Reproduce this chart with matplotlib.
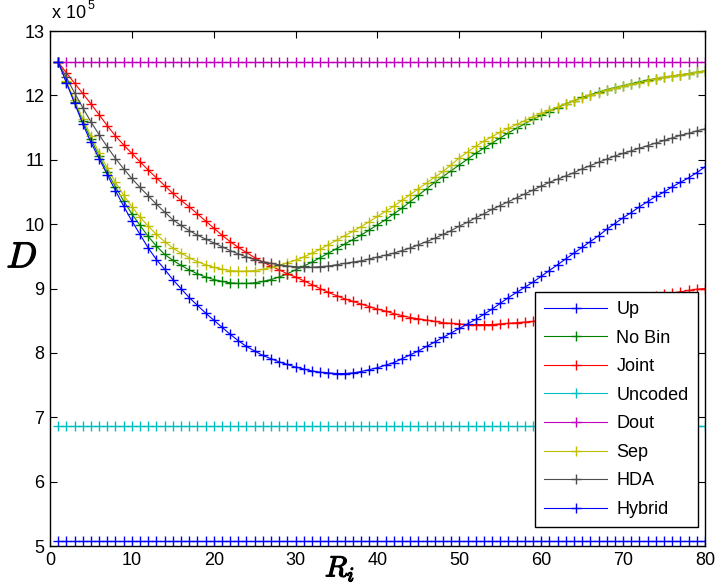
import numpy as np
import matplotlib.pyplot as plt
import matplotlib.patheffects as pe

# R_i values (x axis)
rates = np.arange(1, 81)

# D values, in units of 1e5
hybrid = [12.52, 12.20, 11.88, 11.56, 11.27, 11.02, 10.77, 10.52, 10.28, 10.05,
          9.84, 9.63, 9.45, 9.30, 9.14, 9.00, 8.86, 8.74, 8.62, 8.51,
          8.40, 8.29, 8.19, 8.10, 8.03, 7.96, 7.91, 7.86, 7.82, 7.78,
          7.75, 7.72, 7.70, 7.69, 7.68, 7.68, 7.69, 7.71, 7.74, 7.77,
          7.81, 7.85, 7.91, 7.97, 8.03, 8.10, 8.17, 8.24, 8.31, 8.38,
          8.45, 8.52, 8.60, 8.68, 8.77, 8.86, 8.94, 9.02, 9.10, 9.19,
          9.28, 9.37, 9.46, 9.55, 9.64, 9.73, 9.82, 9.92, 10.01, 10.10,
          10.18, 10.27, 10.35, 10.43, 10.50, 10.58, 10.65, 10.72, 10.80, 10.89]
no_bin = [12.52, 12.21, 11.90, 11.60, 11.32, 11.06, 10.81, 10.58, 10.36, 10.16,
          9.98, 9.81, 9.66, 9.53, 9.44, 9.36, 9.29, 9.23, 9.18, 9.14,
          9.11, 9.09, 9.08, 9.08, 9.09, 9.11, 9.14, 9.18, 9.23, 9.29,
          9.35, 9.41, 9.48, 9.55, 9.62, 9.69, 9.76, 9.83, 9.91, 9.99,
          10.07, 10.16, 10.25, 10.35, 10.45, 10.55, 10.65, 10.74, 10.83, 10.92,
          11.01, 11.10, 11.18, 11.26, 11.34, 11.42, 11.49, 11.56, 11.63, 11.69,
          11.75, 11.81, 11.87, 11.92, 11.97, 12.01, 12.05, 12.09, 12.12, 12.15,
          12.18, 12.21, 12.24, 12.26, 12.28, 12.30, 12.32, 12.34, 12.36, 12.38]
sep = [12.52, 12.22, 11.93, 11.64, 11.37, 11.11, 10.87, 10.65, 10.45, 10.27,
       10.11, 9.97, 9.84, 9.73, 9.63, 9.55, 9.48, 9.42, 9.37, 9.33,
       9.30, 9.28, 9.27, 9.27, 9.28, 9.30, 9.33, 9.36, 9.40, 9.44,
       9.49, 9.55, 9.61, 9.68, 9.75, 9.82, 9.89, 9.96, 10.04, 10.12,
       10.20, 10.28, 10.37, 10.46, 10.55, 10.64, 10.73, 10.82, 10.92, 11.03,
       11.12, 11.21, 11.29, 11.36, 11.43, 11.49, 11.55, 11.61, 11.67, 11.72,
       11.77, 11.82, 11.87, 11.92, 11.96, 12.00, 12.04, 12.08, 12.11, 12.14,
       12.17, 12.20, 12.23, 12.26, 12.28, 12.30, 12.32, 12.34, 12.36, 12.38]
hda = [12.52, 12.28, 12.04, 11.81, 11.59, 11.39, 11.20, 11.02, 10.86, 10.71,
       10.57, 10.44, 10.31, 10.19, 10.07, 9.98, 9.90, 9.83, 9.77, 9.71,
       9.65, 9.59, 9.54, 9.49, 9.45, 9.42, 9.39, 9.37, 9.35, 9.34,
       9.33, 9.33, 9.34, 9.35, 9.37, 9.39, 9.41, 9.43, 9.46, 9.49,
       9.52, 9.55, 9.59, 9.63, 9.68, 9.73, 9.78, 9.84, 9.90, 9.97,
       10.03, 10.10, 10.16, 10.23, 10.29, 10.35, 10.41, 10.47, 10.53, 10.59,
       10.65, 10.70, 10.75, 10.80, 10.86, 10.91, 10.96, 11.01, 11.06, 11.10,
       11.14, 11.18, 11.22, 11.26, 11.30, 11.34, 11.38, 11.41, 11.45, 11.48]
joint = [12.52, 12.35, 12.19, 12.03, 11.87, 11.70, 11.53, 11.37, 11.23, 11.10,
         10.97, 10.84, 10.72, 10.60, 10.48, 10.37, 10.27, 10.16, 10.05, 9.94,
         9.83, 9.73, 9.64, 9.56, 9.48, 9.41, 9.35, 9.29, 9.23, 9.18,
         9.12, 9.06, 9.00, 8.94, 8.89, 8.84, 8.80, 8.76, 8.72, 8.68,
         8.65, 8.61, 8.58, 8.55, 8.53, 8.51, 8.49, 8.47, 8.46, 8.45,
         8.44, 8.44, 8.44, 8.44, 8.45, 8.46, 8.47, 8.48, 8.49, 8.51,
         8.53, 8.55, 8.57, 8.59, 8.61, 8.64, 8.67, 8.70, 8.73, 8.76,
         8.79, 8.82, 8.85, 8.88, 8.91, 8.93, 8.95, 8.97, 8.99, 9.00]
up_level = 5.08
uncoded_level = 6.87
dout_level = 12.52

n = len(rates)
series = [
    ('Up', np.full(n, up_level), (0, 0, 1)),
    ('No Bin', no_bin, (0, 0.5, 0)),
    ('Joint', joint, (1, 0, 0)),
    ('Uncoded', np.full(n, uncoded_level), (0, 0.75, 0.75)),
    ('Dout', np.full(n, dout_level), (0.75, 0, 0.75)),
    ('Sep', sep, (0.75, 0.75, 0)),
    ('HDA', hda, (0.3, 0.3, 0.3)),
    ('Hybrid', hybrid, (0, 0, 1)),
]

plt.rcParams['font.family'] = 'Liberation Sans'
plt.rcParams['mathtext.fontset'] = 'cm'

fig = plt.figure(figsize=(7.17, 5.87), dpi=100)
ax = fig.add_axes([0.0697, 0.0698, 0.9135, 0.8773])

for name, vals, col in series:
    ax.plot(rates, vals, color=col, marker='+', markersize=7.5,
            markeredgewidth=1.0, linewidth=0.8, label=name)

ax.set_xlim(0, 80)
ax.set_ylim(5, 13)
ax.set_xticks(range(0, 81, 10))
ax.set_yticks(range(5, 14))
ax.tick_params(direction='in', top=True, right=True, length=5,
               labelsize=13, width=0.8, pad=4)
for s in ax.spines.values():
    s.set_linewidth(1.0)

# thicken the math labels so they look bold like the original
bold = [pe.withStroke(linewidth=0.9, foreground='black')]
fig.text(52 / 717, 1 - 14 / 587, 'x 10', fontsize=13, ha='left', va='center')
fig.text(88 / 717, 1 - 6 / 587, '5', fontsize=9, ha='left', va='center')
fig.text(22 / 717, 1 - 258 / 587, r'$D$', fontsize=26,
         ha='center', va='center', path_effects=bold)
fig.text(340 / 717, 1 - 569 / 587, r'$R_i$', fontsize=21,
         ha='center', va='center', path_effects=bold)

leg = ax.legend(loc='lower right', bbox_to_anchor=(0.989, 0.037),
                borderaxespad=0, fontsize=13, handlelength=3.5,
                handletextpad=0.5, labelspacing=0.64, borderpad=0.5,
                fancybox=False, framealpha=1, edgecolor='black')
leg.get_frame().set_linewidth(1.0)

fig.savefig('out.png', dpi=100)
